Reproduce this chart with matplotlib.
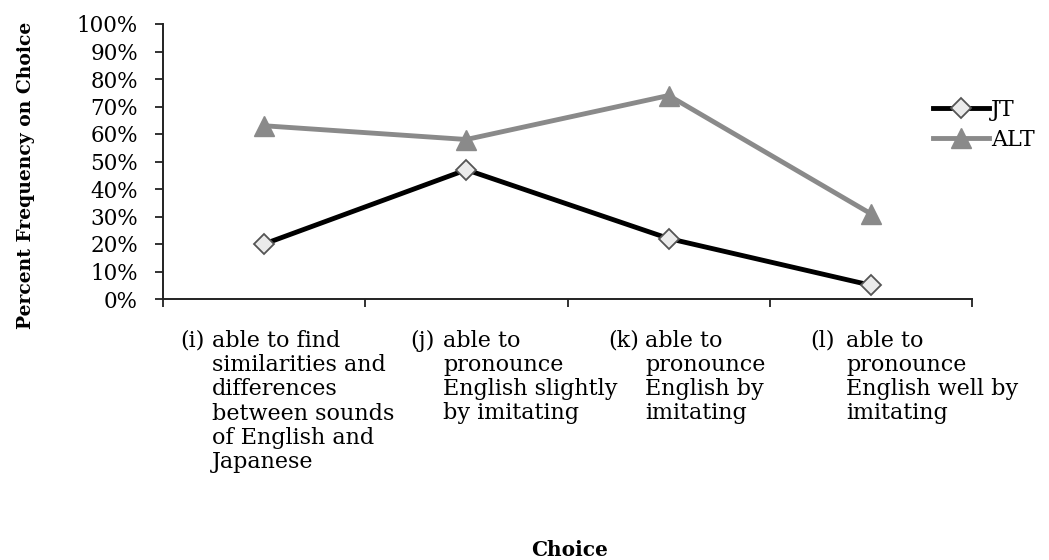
import matplotlib
matplotlib.use("Agg")
import matplotlib.pyplot as plt
from matplotlib.transforms import blended_transform_factory, offset_copy

categories_prefix = ["(i)", "(j)", "(k)", "(l)"]
categories_body = [
    "able to find\nsimilarities and\ndifferences\nbetween sounds\nof English and\nJapanese",
    "able to\npronounce\nEnglish slightly\nby imitating",
    "able to\npronounce\nEnglish by\nimitating",
    "able to\npronounce\nEnglish well by\nimitating",
]
jt = [20, 47, 22, 5]
alt = [63, 58, 74, 31]
yticks = list(range(0, 101, 10))
ytick_labels = [f"{v}%" for v in yticks]

serif = "DejaVu Serif"
plt.rcParams["font.family"] = serif

fig = plt.figure(figsize=(10.49, 5.60), dpi=100)
ax = fig.add_axes([163/1049, 1-299/560, (972-163)/1049, (299-24)/560])

x = [i + 0.5 for i in range(len(jt))]
ax.plot(x, alt, color="#8a8a8a", lw=3.5, marker="^", markersize=14,
        markerfacecolor="#8a8a8a", markeredgecolor="#8a8a8a", label="ALT", zorder=3)
ax.plot(x, jt, color="black", lw=3.5, marker="D", markersize=10,
        markerfacecolor="#ebebeb", markeredgecolor="#555555", markeredgewidth=1.3,
        label="JT", zorder=4)

ax.set_xlim(0, 4)
ax.set_ylim(0, 100)
ax.set_xticks(range(0, 5))
ax.set_xticklabels([])
ax.set_yticks(yticks)
ax.set_yticklabels(ytick_labels, fontsize=15.5)
ax.tick_params(axis="both", direction="out", length=6, width=1.3, color="#222222")
ax.tick_params(axis="y", pad=12)
for s in ["top", "right"]:
    ax.spines[s].set_visible(False)
for s in ["left", "bottom"]:
    ax.spines[s].set_linewidth(1.4)
    ax.spines[s].set_color("#222222")

# category labels with hanging indent, one text per line
tr = blended_transform_factory(ax.transData, fig.transFigure)
prefix_off = [-0.416, -0.279, -0.300, -0.301]
body_off = [-0.258, -0.116, -0.117, -0.123]
ytop = 1 - 341/560
pitch_pt = 17.4
for i in range(len(categories_body)):
    ax.text(x[i] + prefix_off[i], ytop, categories_prefix[i], transform=tr,
            ha="left", va="center", fontsize=16, clip_on=False)
    for k, line in enumerate(categories_body[i].split("\n")):
        t = offset_copy(tr, fig=fig, x=0, y=-k * pitch_pt, units="points")
        ax.text(x[i] + body_off[i], ytop, line, transform=t,
                ha="left", va="center", fontsize=16, clip_on=False)

fig.text(570/1049, 1-550/560, "Choice", ha="center", va="center",
         fontsize=14.5, fontweight="bold", family=serif)
fig.text(26/1049, 1-175/560, "Percent Frequency on Choice", ha="center", va="center",
         rotation=90, fontsize=13.5, fontweight="bold", family=serif)

handles, labels = ax.get_legend_handles_labels()
leg = fig.legend(handles[::-1], labels[::-1], loc="center left",
                 bbox_to_anchor=(933/1049, 1-125/560), frameon=False,
                 fontsize=16, handlelength=2.5, handletextpad=0.1,
                 labelspacing=0.35, borderaxespad=0, borderpad=0)

fig.savefig("out.png", dpi=100)
